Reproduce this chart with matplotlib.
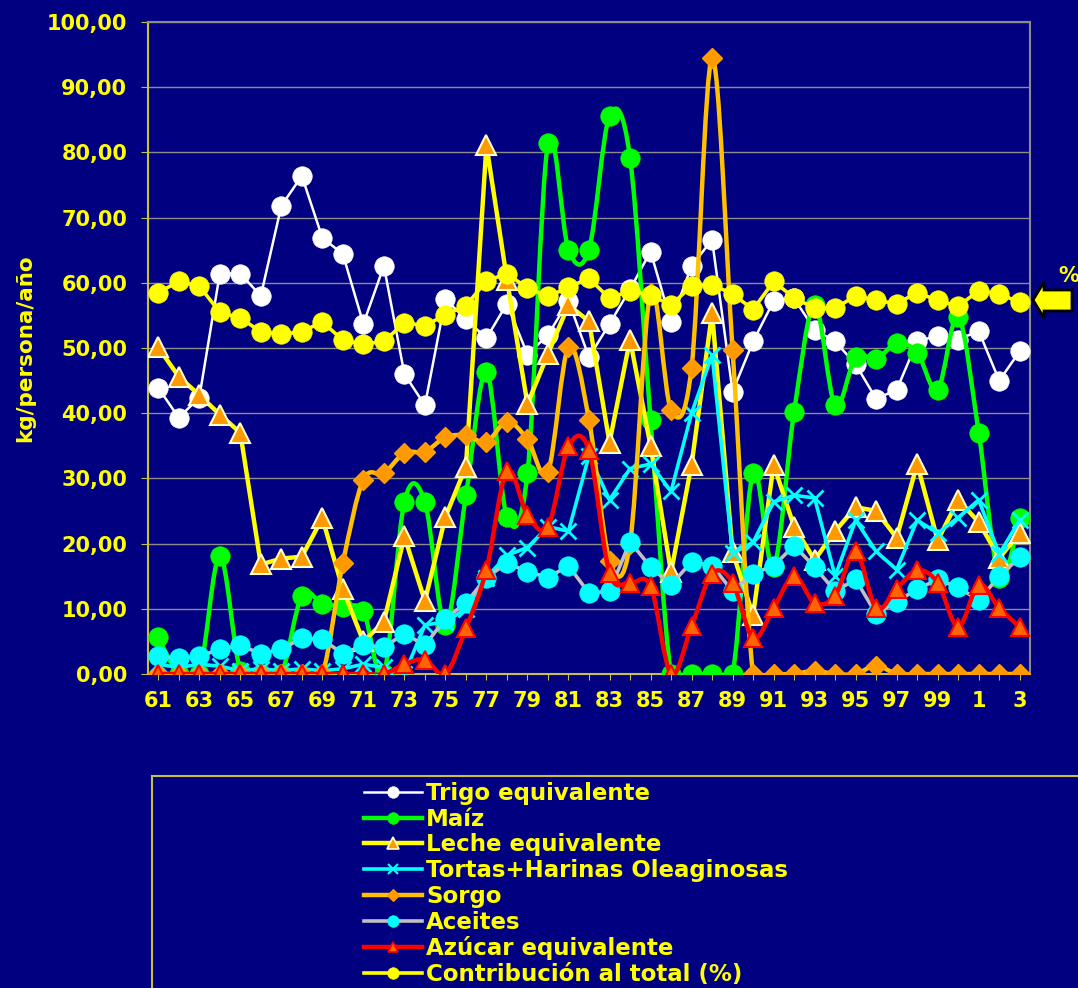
import numpy as np
import matplotlib
matplotlib.use("Agg")
import matplotlib.pyplot as plt
from matplotlib.path import Path
from matplotlib.patches import PathPatch, Rectangle, Polygon
from matplotlib.lines import Line2D

# ---------------- data ----------------
years = list(range(1961, 2004))
tick_labels = [str(y % 100) if (y % 2 == 1) else "" for y in years]

trigo = [43.9, 39.3, 42.4, 61.4, 61.4, 58.0, 71.8, 76.4, 66.9, 64.4,
         53.7, 62.6, 46.0, 41.2, 57.5, 54.4, 51.5, 56.8, 49.0, 52.0,
         57.2, 48.6, 53.7, 59.0, 64.8, 54.0, 62.6, 66.6, 43.3, 51.0,
         57.2, 57.6, 52.8, 51.0, 47.5, 42.2, 43.6, 51.0, 51.9, 51.3,
         52.6, 45.0, 49.5]
maiz = [5.6, 0.0, 0.0, 18.1, 0.5, 0.0, 0.0, 12.0, 10.8, 10.3,
        9.6, 0.0, 26.4, 26.4, 7.5, 27.4, 46.3, 24.1, 30.8, 81.4,
        65.1, 65.1, 85.6, 79.2, 39.0, 0.0, 0.0, 0.0, 0.0, 30.8,
        16.4, 40.2, 56.6, 41.2, 48.6, 48.3, 50.7, 49.3, 43.6, 54.8,
        37.0, 14.8, 23.9]
leche = [50.1, 45.6, 42.8, 39.8, 37.0, 16.8, 17.7, 18.0, 23.9, 13.0,
         5.0, 8.0, 21.1, 11.2, 24.1, 31.8, 81.1, 60.5, 41.4, 49.1,
         56.6, 54.1, 35.5, 51.3, 35.0, 15.6, 32.1, 55.4, 18.7, 9.0,
         32.1, 22.6, 17.5, 21.9, 25.6, 25.0, 20.9, 32.2, 20.5, 26.7,
         23.3, 17.8, 21.6]
tortas = [1.5, 1.0, 1.5, 1.2, 0.5, 0.8, 0.5, 0.8, 0.5, 0.8,
          1.5, 1.0, 0.0, 7.5, 8.0, 10.0, 14.8, 18.2, 19.4, 22.6,
          21.9, 33.5, 26.7, 31.5, 32.2, 28.0, 40.0, 48.9, 18.5, 20.2,
          26.4, 27.4, 27.0, 15.0, 23.6, 18.8, 16.0, 23.6, 21.6, 24.0,
          26.7, 18.4, 23.6]
sorgo = [0.0, 0.0, 0.0, 0.0, 0.0, 0.0, 0.0, 0.0, 0.0, 17.0,
         29.8, 30.8, 33.9, 34.1, 36.3, 36.6, 35.6, 38.7, 36.0, 31.0,
         50.1, 39.0, 17.4, 20.0, 58.5, 40.5, 47.0, 94.5, 49.7, 0.0,
         0.0, 0.0, 0.5, 0.0, 0.0, 1.3, 0.0, 0.0, 0.0, 0.0,
         0.0, 0.0, 0.0]
aceites = [2.7, 2.4, 2.7, 3.8, 4.4, 3.1, 3.8, 5.5, 5.3, 3.1,
           4.4, 4.1, 6.2, 4.4, 8.5, 10.9, 14.8, 17.0, 15.7, 14.8,
           16.6, 12.4, 12.7, 20.3, 16.4, 13.7, 17.2, 16.6, 12.7, 15.4,
           16.6, 19.7, 16.4, 12.7, 14.5, 9.2, 11.1, 13.0, 14.5, 13.3,
           11.3, 15.0, 17.9]
azucar = [0.0, 0.0, 0.0, 0.0, 0.0, 0.0, 0.0, 0.0, 0.0, 0.0,
          0.0, 0.0, 1.5, 2.2, 0.0, 7.0, 16.0, 31.1, 24.4, 22.6,
          34.9, 34.3, 15.5, 14.0, 13.5, 0.0, 7.3, 15.4, 14.0, 5.5,
          10.1, 15.0, 10.9, 12.0, 18.8, 10.1, 13.1, 15.9, 14.0, 7.2,
          13.7, 10.1, 7.2]
contrib = [58.5, 60.2, 59.5, 55.5, 54.6, 52.5, 52.1, 52.5, 54.0, 51.2,
           50.6, 51.0, 53.9, 53.4, 55.1, 56.5, 60.3, 61.4, 59.2, 57.9,
           59.3, 60.7, 57.6, 58.8, 58.1, 56.6, 59.5, 59.7, 58.3, 55.9,
           60.2, 57.7, 56.1, 56.1, 58.0, 57.3, 56.8, 58.5, 57.3, 56.4,
           58.8, 58.3, 57.0]

labels = ["Trigo equivalente", "Maíz", "Leche equivalente",
          "Tortas+Harinas Oleaginosas", "Sorgo", "Aceites",
          "Azúcar equivalente", "Contribución al total (%)"]

# ---------------- style ----------------
BG = "#000080"
YEL = "#FFFF00"
TAN = "#C8C040"
plt.rcParams["font.family"] = ["DejaVu Sans"]
plt.rcParams["font.weight"] = "bold"

W, H = 1078, 988
fig = plt.figure(figsize=(W / 100, H / 100), dpi=100, facecolor=BG)
ax = fig.add_axes([148 / W, 1 - 674 / H, (1030 - 148) / W, (674 - 22) / H])
ax.set_facecolor(BG)

x = np.arange(len(years))


def smooth(ax, xs, ys, color, lw, z):
    xs = np.asarray(xs, float)
    ys = np.asarray(ys, float)
    n = len(xs)
    verts = [(xs[0], ys[0])]
    codes = [Path.MOVETO]
    for i in range(n - 1):
        p0 = i - 1 if i > 0 else i
        p3 = i + 2 if i + 2 < n else i + 1
        c1 = (xs[i] + (xs[i + 1] - xs[p0]) / 6, ys[i] + (ys[i + 1] - ys[p0]) / 6)
        c2 = (xs[i + 1] - (xs[p3] - xs[i]) / 6, ys[i + 1] - (ys[p3] - ys[i]) / 6)
        verts += [c1, c2, (xs[i + 1], ys[i + 1])]
        codes += [Path.CURVE4] * 3
    ax.add_patch(PathPatch(Path(verts, codes), facecolor="none", edgecolor=color,
                           lw=lw, zorder=z, joinstyle="round", capstyle="round"))


series = [
    # data, line colour, smooth, lw, marker, msize, face, edge, mew
    (trigo, "#FFFFFF", False, 1.8, "o", 14, "#FFFFFF", "#FFFFFF", 0.5),
    (maiz, "#00FF00", True, 3.2, "o", 14, "#00FF00", "#00FF00", 0.5),
    (leche, "#FFFF00", False, 3.2, "^", 15, "#FF9900", "#FFFFCC", 1.5),
    (tortas, "#00FFFF", False, 2.6, "x", 12, "#00FFFF", "#00FFFF", 2.0),
    (sorgo, "#FFC000", True, 3.2, "D", 10, "#FF9900", "#FFA000", 1.0),
    (aceites, "#C0C0C0", False, 2.6, "o", 14, "#00FFFF", "#00FFFF", 0.5),
    (azucar, "#FF0000", True, 3.2, "^", 13, "#FF6600", "#FF0000", 1.5),
    (contrib, "#FFFF00", False, 2.6, "o", 14, "#FFFF00", "#FFFF00", 0.5),
]

handles = []
for k, (d, lc, sm, lw, mk, ms, fc, ec, mew) in enumerate(series):
    z = 3 + k
    if sm:
        smooth(ax, x, d, lc, lw, z)
        ax.plot(x, d, linestyle="none", marker=mk, ms=ms, mfc=fc, mec=ec,
                mew=mew, zorder=z + 0.5)
    else:
        ax.plot(x, d, color=lc, lw=lw, marker=mk, ms=ms, mfc=fc, mec=ec,
                mew=mew, zorder=z)
    handles.append(Line2D([], [], color=lc, lw=lw, marker=mk,
                          ms=ms * 0.6, mfc=fc, mec=ec, mew=mew * 0.8))

ax.set_xlim(-0.5, len(years) - 0.5)
ax.set_ylim(0, 100)
ax.set_yticks(np.arange(0, 101, 10))
ax.set_yticklabels([f"{v:.2f}".replace(".", ",") for v in np.arange(0, 101, 10)])
ax.set_xticks(x)
ax.set_xticklabels(tick_labels)
ax.grid(axis="y", color="#8C8C8C", lw=1)
ax.set_axisbelow(True)
for s in ["left", "bottom"]:
    ax.spines[s].set_color(TAN)
    ax.spines[s].set_linewidth(1.5)
for s in ["top", "right"]:
    ax.spines[s].set_color("#8C8C8C")
    ax.spines[s].set_linewidth(1.5)
ax.tick_params(axis="y", colors=TAN, labelcolor=YEL, labelsize=15, length=5, pad=10)
ax.tick_params(axis="x", colors=TAN, labelcolor=YEL, labelsize=15, length=4, pad=8)
for t in ax.get_xticklabels() + ax.get_yticklabels():
    t.set_fontweight("bold")
ax.set_ylabel("kg/persona/año", color=YEL, fontsize=15.5, fontweight="bold", labelpad=8)

# legend box and legend
fig.patches.append(Rectangle((152 / W, -0.05), 1.0, 1 - 776 / H + 0.05,
                             transform=fig.transFigure, facecolor="none",
                             edgecolor=TAN, lw=1.5))
leg = fig.legend(handles, labels, loc="upper left",
                 bbox_to_anchor=(364 / W, 1 - 782 / H), frameon=False,
                 fontsize=16.5, labelspacing=0.12, handlelength=2.55,
                 handletextpad=0.15, borderaxespad=0, borderpad=0)
for t in leg.get_texts():
    t.set_color(YEL)
    t.set_fontweight("bold")

# arrow with % on the right
verts = [(1033, 300), (1044, 282), (1044, 290), (1072, 290),
         (1072, 311), (1044, 311), (1044, 318)]
fig.patches.append(Polygon([(vx / W, 1 - vy / H) for vx, vy in verts], closed=True,
                           transform=fig.transFigure, facecolor=YEL,
                           edgecolor="black", lw=2))
fig.text(1058 / W, 1 - 276 / H, "%", color=YEL, fontsize=15, fontweight="bold",
         ha="left", va="center")

fig.savefig("out.png", dpi=100, facecolor=BG)
